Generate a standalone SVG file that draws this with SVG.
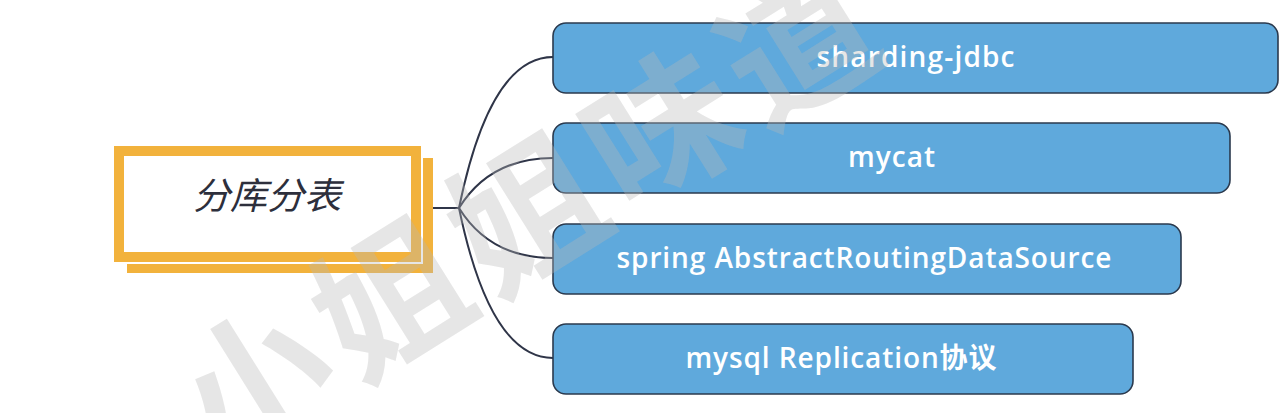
<svg xmlns="http://www.w3.org/2000/svg" width="1286" height="413" viewBox="0 0 1286 413">
<style>
.box{fill:#5fa9dc;stroke:#2b3a4e;stroke-width:1.6}
.lbl{font-family:"Open Sans","Noto Sans CJK SC",sans-serif;font-weight:600;font-size:28px;fill:#ffffff;text-anchor:middle}
.conn{fill:none;stroke:#2f3548;stroke-width:2}
.ybox{fill:#ffffff;stroke:#f2b23c;stroke-width:10}
</style>
<rect width="1286" height="413" fill="#ffffff"/>
<g id="connectors">
<path class="conn" d="M433,208 L459,208"/>
<path class="conn" d="M459,208 Q490,57 553,57"/>
<path class="conn" d="M459,208 Q490,158 553,158"/>
<path class="conn" d="M459,208 Q490,258 553,258"/>
<path class="conn" d="M459,208 Q490,358 553,358"/>
</g>
<g id="root">
<rect class="ybox" x="132" y="163" width="296" height="105"/>
<rect x="112" y="144" width="311" height="120" fill="#ffffff"/>
<rect class="ybox" x="119" y="151" width="297" height="106"/>
<text x="267" y="209" font-family="'Noto Sans CJK SC',sans-serif" font-size="37" font-style="italic" fill="#2d2f3c" text-anchor="middle">分库分表</text>
</g>
<g id="n1">
<rect class="box" x="553" y="23" width="725" height="70" rx="13"/>
<text class="lbl" x="915.5" y="67" textLength="198" lengthAdjust="spacing">sharding-jdbc</text>
</g>
<g id="n2">
<rect class="box" x="553" y="123" width="677" height="70" rx="13"/>
<text class="lbl" x="891.5" y="167" textLength="87" lengthAdjust="spacing">mycat</text>
</g>
<g id="n3">
<rect class="box" x="553" y="224" width="628" height="70" rx="13"/>
<text class="lbl" x="864" y="268" textLength="495" lengthAdjust="spacing">spring AbstractRoutingDataSource</text>
</g>
<g id="n4">
<rect class="box" x="553" y="324" width="580" height="70" rx="13"/>
<text class="lbl" x="841" y="368" textLength="311" lengthAdjust="spacing">mysql Replication协议</text>
</g>
<g id="watermark" transform="translate(530,210) rotate(-32)">
<text x="0" y="57" font-family="'Noto Sans CJK SC',sans-serif" font-weight="700" font-size="150" letter-spacing="10" fill="#b8b8b8" fill-opacity="0.35" text-anchor="middle">小姐姐味道</text>
</g>
</svg>
